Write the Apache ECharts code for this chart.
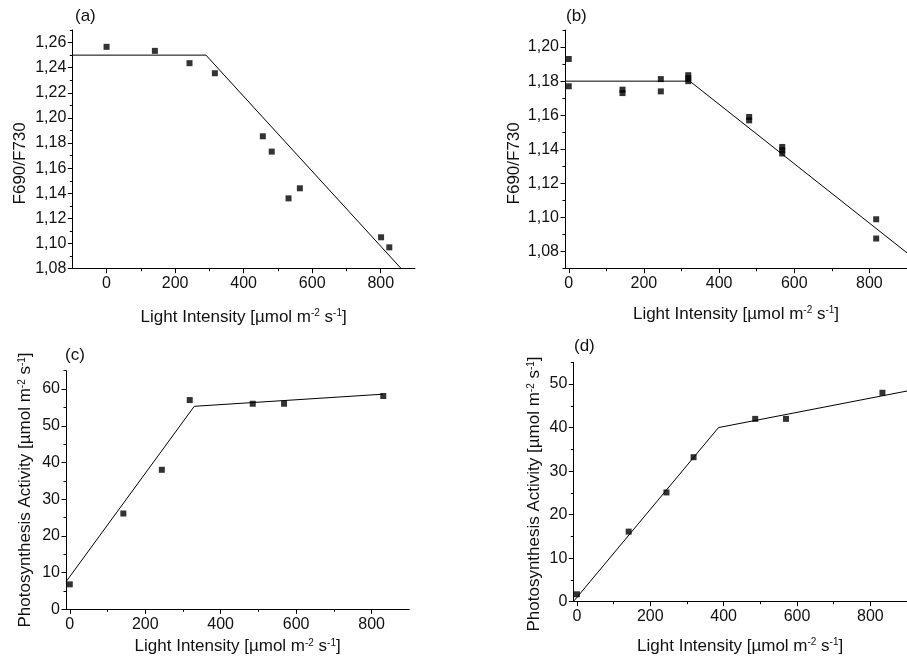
<!DOCTYPE html>
<html>
<head>
<meta charset="utf-8">
<script src="https://cdn.jsdelivr.net/npm/echarts@6/dist/echarts.min.js"></script>
<style>
  html, body { margin: 0; padding: 0; background: #fff; }
  #chart { width: 907px; height: 658px; }
</style>
</head>
<body>
<div id="chart"></div>
<script>
// panel (a): F690/F730 vs light intensity
const lightA = [0, 141, 242, 316, 456, 482, 531, 564, 801, 825];
const ratioA = [1.2566, 1.2534, 1.2436, 1.2356, 1.1854, 1.1732, 1.136, 1.144, 1.105, 1.097];
const fitA = [[-100, 1.25], [290, 1.25], [860, 1.08]];

// panel (b)
const lightB = [0, 0, 143, 143, 245, 245, 318, 318, 318, 480, 480, 568, 568, 568, 818, 818];
const ratioB = [1.193, 1.177, 1.175, 1.173, 1.1812, 1.174, 1.1835, 1.1817, 1.180, 1.159, 1.157, 1.1414, 1.1395, 1.1376, 1.099, 1.0877];
const fitB = [[-10, 1.18], [322, 1.18], [900, 1.0793]];

// panel (c): photosynthesis activity
const lightC = [0, 142, 244, 318, 485, 568, 831];
const activityC = [6.8, 26.1, 38.0, 57.0, 56.0, 56.0, 58.1];
const fitC = [[-10, 7.5], [330, 55.3], [830, 58.6]];

// panel (d)
const lightD = [0, 141, 244, 318, 486, 570, 833];
const activityD = [1.7, 16.1, 25.1, 33.2, 42.0, 42.0, 48.0];
const fitD = [[-8, 0.2], [386, 40.0], [900, 48.4]];

// ticks
const xMajor = [0, 200, 400, 600, 800];
const xMinor = [100, 300, 500, 700];
const yMajorA = [1.08, 1.10, 1.12, 1.14, 1.16, 1.18, 1.20, 1.22, 1.24, 1.26];
const yMinorA = [1.09, 1.11, 1.13, 1.15, 1.17, 1.19, 1.21, 1.23, 1.25, 1.27];
const yMajorB = [1.08, 1.10, 1.12, 1.14, 1.16, 1.18, 1.20];
const yMinorB = [1.07, 1.09, 1.11, 1.13, 1.15, 1.17, 1.19, 1.21];
const yMajorC = [0, 10, 20, 30, 40, 50, 60];
const yMinorC = [5, 15, 25, 35, 45, 55, 65];
const yMajorD = [0, 10, 20, 30, 40, 50];
const yMinorD = [5, 15, 25, 35, 45, 55];

const FONT = 'Liberation Sans, Arial, sans-serif';
const TXT = '#111';
const LINE = '#000';

const lightName = 'Light Intensity [µmol m{sup|-2} s{sup|-1}]';
const activityName = 'Photosynthesis Activity [µmol m{sup|-2} s{sup|-1}]';
const nameStyle = {
    fontFamily: FONT, fontSize: 17, color: TXT,
    rich: { sup: { fontFamily: FONT, fontSize: 10, color: TXT, verticalAlign: 'top', padding: [0, 0, 6, 0] } }
};

const comma = v => v.toFixed(2).replace('.', ',');

const panels = [
    { grid: { left: 72.3, top: 30, width: 342.7, height: 238.7 }, x: [-100, 900], y: [1.08, 1.27],
      yMajor: yMajorA, yMinor: yMinorA, fmt: comma, yName: 'F690/F730', xGap: 40, yGap: 43, yPad: [0, 28, 0, 0],
      pts: [lightA, ratioA], fit: fitA },
    { grid: { left: 565, top: 30, width: 344, height: 238.7 }, x: [-10, 900], y: [1.07, 1.21],
      yMajor: yMajorB, yMinor: yMinorB, fmt: comma, yName: 'F690/F730', xGap: 37, yGap: 42, yPad: [0, 28, 0, 0],
      pts: [lightB, ratioB], fit: fitB },
    { grid: { left: 66, top: 370.7, width: 343.3, height: 238.6 }, x: [-10, 900], y: [0, 65],
      yMajor: yMajorC, yMinor: yMinorC, fmt: v => String(v), yName: activityName, xGap: 29, yGap: 32, yPad: [0, 0, 0, 0],
      pts: [lightC, activityC], fit: fitC },
    { grid: { left: 573.3, top: 362.3, width: 343.5, height: 239.4 }, x: [-10, 900], y: [0, 55],
      yMajor: yMajorD, yMinor: yMinorD, fmt: v => String(v), yName: activityName, xGap: 36, yGap: 30, yPad: [0, 24, 0, 0],
      pts: [lightD, activityD], fit: fitD }
];

const grids = [], xAxes = [], yAxes = [], series = [];

panels.forEach((p, i) => {
    grids.push(Object.assign({ containLabel: false }, p.grid));

    // axis line + minor ticks
    xAxes.push({
        type: 'value', gridIndex: i, min: p.x[0], max: p.x[1], position: 'bottom',
        axisLine: { onZero: false, lineStyle: { color: LINE, width: 1 } },
        axisTick: { customValues: xMinor, length: 2.5, lineStyle: { color: LINE } },
        axisLabel: { show: false }, splitLine: { show: false },
        name: lightName, nameLocation: 'middle', nameGap: p.xGap, nameTextStyle: nameStyle
    });
    // major ticks + labels
    xAxes.push({
        type: 'value', gridIndex: i, min: p.x[0], max: p.x[1], position: 'bottom',
        axisLine: { show: false, onZero: false },
        axisTick: { customValues: xMajor, length: 4.5, lineStyle: { color: LINE } },
        axisLabel: { customValues: xMajor, margin: 7, fontFamily: FONT, fontSize: 16, color: TXT },
        splitLine: { show: false }
    });

    yAxes.push({
        type: 'value', gridIndex: i, min: p.y[0], max: p.y[1], position: 'left',
        axisLine: { onZero: false, lineStyle: { color: LINE, width: 1 } },
        axisTick: { customValues: p.yMinor, length: 2.5, lineStyle: { color: LINE } },
        axisLabel: { show: false }, splitLine: { show: false },
        name: p.yName, nameLocation: 'middle', nameGap: p.yGap,
        nameTextStyle: Object.assign({}, nameStyle, { padding: p.yPad })
    });
    yAxes.push({
        type: 'value', gridIndex: i, min: p.y[0], max: p.y[1], position: 'left',
        axisLine: { show: false, onZero: false },
        axisTick: { customValues: p.yMajor, length: 4.5, lineStyle: { color: LINE } },
        axisLabel: { customValues: p.yMajor, margin: 6, fontFamily: FONT, fontSize: 16, color: TXT, formatter: p.fmt },
        splitLine: { show: false }
    });

    series.push({
        type: 'line', xAxisIndex: 2 * i, yAxisIndex: 2 * i,
        data: p.fit, symbol: 'none', silent: true,
        lineStyle: { color: LINE, width: 1 }, z: 2
    });
    series.push({
        type: 'scatter', xAxisIndex: 2 * i, yAxisIndex: 2 * i,
        data: p.pts[0].map((x, k) => [x, p.pts[1][k]]),
        symbol: 'rect', symbolSize: 6, itemStyle: { color: '#000' }, z: 3
    });
});

const chart = echarts.init(document.getElementById('chart'), null, { renderer: 'canvas' });
chart.setOption({
    animation: false,
    backgroundColor: '#fff',
    title: [
        { text: '(a)', left: 75, top: 8 },
        { text: '(b)', left: 566, top: 8 },
        { text: '(c)', left: 65, top: 347 },
        { text: '(d)', left: 574, top: 338 }
    ].map(t => Object.assign(t, { padding: 0, textStyle: { fontFamily: FONT, fontSize: 17, fontWeight: 'normal', color: TXT } })),
    grid: grids,
    xAxis: xAxes,
    yAxis: yAxes,
    series: series
});
</script>
</body>
</html>
